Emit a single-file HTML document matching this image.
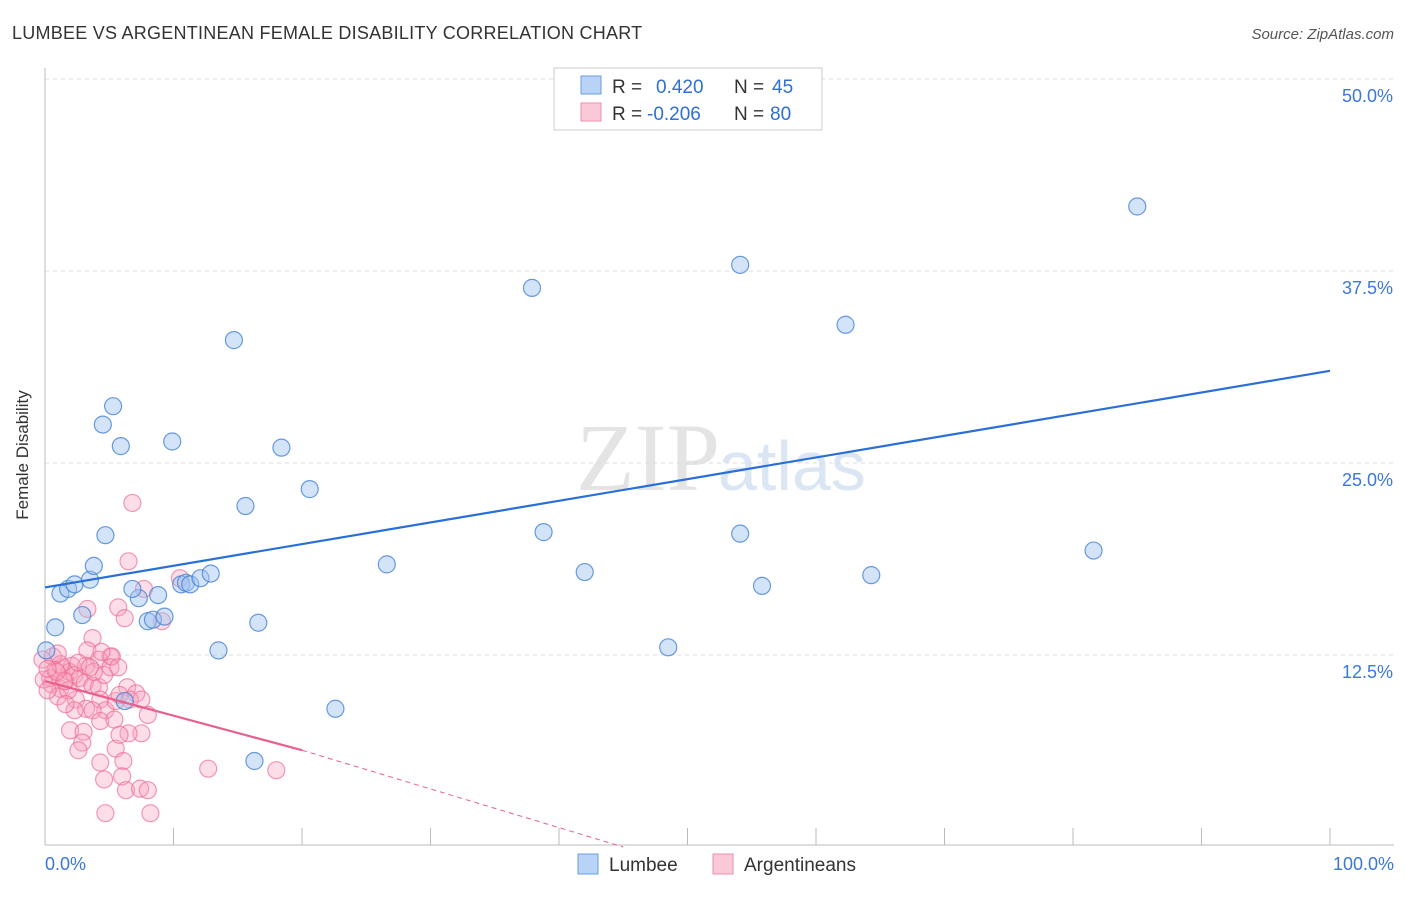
<!DOCTYPE html><html><head><meta charset="utf-8"><style>body{margin:0;background:#fff;font-family:"Liberation Sans",sans-serif}</style></head><body>
<svg id="c" width="1406" height="892" xmlns="http://www.w3.org/2000/svg">
<text x="12" y="39" font-size="18" fill="#333" letter-spacing="0.25">LUMBEE VS ARGENTINEAN FEMALE DISABILITY CORRELATION CHART</text>
<text x="1394" y="39" font-size="15" fill="#555" font-style="italic" text-anchor="end">Source: ZipAtlas.com</text>
<text x="720" y="490" font-size="96" fill="#e4e4e4" text-anchor="end" font-family="Liberation Serif">ZIP</text>
<text x="718" y="490" font-size="70" fill="#dbe6f5">atlas</text>
<g id="grid"></g><g id="pts"></g><g id="lines"></g>
<text x="28" y="455" font-size="17" fill="#333" transform="rotate(-90 28 455)" text-anchor="middle">Female Disability</text>
<text x="45" y="870" font-size="18" fill="#3a78d8">0.0%</text>
<text x="1394" y="870" font-size="18" fill="#3a78d8" text-anchor="end">100.0%</text>
<g>
<rect x="554" y="68" width="268" height="62" fill="#fff" stroke="#ccc"/>
<rect x="581" y="76" width="20" height="18" fill="#b8d3f5" stroke="#6a9ee0"/>
<rect x="581" y="103" width="20" height="18" fill="#fbc8d8" stroke="#ee8fb0"/>
<text y="93" font-size="19" fill="#333"><tspan x="612">R =</tspan><tspan x="656" fill="#2d6fd6">0.420</tspan><tspan x="734">N =</tspan><tspan x="772" fill="#2d6fd6">45</tspan></text>
<text y="120" font-size="19" fill="#333"><tspan x="612">R =</tspan><tspan x="647" fill="#2d6fd6">-0.206</tspan><tspan x="734">N =</tspan><tspan x="770" fill="#2d6fd6">80</tspan></text>
</g>
<g>
<rect x="578" y="854" width="20" height="20" fill="#b8d3f5" stroke="#6a9ee0"/>
<text x="609" y="871" font-size="19" fill="#333">Lumbee</text>
<rect x="713" y="854" width="20" height="20" fill="#fbc8d8" stroke="#ee8fb0"/>
<text x="744" y="871" font-size="19" fill="#333">Argentineans</text>
</g>
</svg>
<script>
const yTicks=[12.5,25,37.5,50];
const yTickLabels=["12.5%","25.0%","37.5%","50.0%"];
const lumbeeX=[0.8,1.2,1.8,2.3,2.9,3.5,3.8,4.7,4.5,5.3,5.9,9.9,14.7,18.4,15.6,20.6,7.3,6.8,8.0,8.4,8.8,9.3,10.6,10.97,11.3,12.1,12.9,16.6,13.5,22.6,16.3,6.2,0.1,26.6,37.9,38.8,42.0,48.5,54.1,54.1,55.8,62.3,64.3,81.6,85.0];
const lumbeeY=[14.3,16.5,16.8,17.1,15.1,17.4,18.3,20.3,27.5,28.7,26.1,26.4,33.0,26.0,22.2,23.3,16.2,16.8,14.7,14.8,16.4,15.0,17.1,17.2,17.1,17.5,17.8,14.6,12.8,9.0,5.6,9.5,12.8,18.4,36.4,20.5,17.9,13.0,37.9,20.4,17.0,34.0,17.7,19.3,41.7];
const argX=[6.8,6.5,3.3,5.7,6.2,3.7,3.3,5.1,4.2,5.2,2.1,1.3,0.8,0.4,0.5,1.2,1.6,1.9,2.3,2.7,3.1,3.7,4.2,4.6,5.1,5.7,1.0,2.4,3.2,4.3,4.7,5.5,6.4,7.1,2.3,3.7,4.3,1.95,3.0,2.9,2.6,5.5,6.1,6.0,4.3,6.3,7.4,8.0,4.7,8.2,7.5,6.5,8.0,4.6,12.7,18.0,7.7,10.5,9.1,-0.2,-0.1,0.2,0.6,1.2,1.8,3.2,3.8,5.8,6.6,1.5,2.6,3.5,4.4,0.9,0.2,1.6,5.4,7.5,1.0,5.8];
const argY=[22.4,18.6,15.5,15.6,14.9,13.6,12.8,12.4,12.2,12.4,11.8,11.7,11.5,11.0,10.6,10.3,10.8,11.4,11.2,11.0,10.7,10.5,10.4,11.2,11.7,11.7,9.8,9.6,9.0,9.6,8.9,9.5,10.4,10.0,8.9,8.9,8.2,7.6,7.5,6.8,6.3,6.4,5.6,4.6,5.5,3.7,3.8,3.7,2.2,2.2,7.4,7.4,8.6,4.4,5.1,5.0,16.8,17.5,14.7,12.2,10.9,10.2,12.4,11.9,10.2,11.8,11.4,9.9,9.6,10.8,12.0,11.7,12.7,11.4,11.6,9.3,8.3,9.6,12.6,7.3];
const lumbeeTrend=[16.9,31.0];
const argTrend=[10.8,6.3,0];
const argTrendX=[0,20,45];
const X=v=>45+v*12.85, Y=v=>847-v*15.36;
const NS="http://www.w3.org/2000/svg";
function mk(t,a,p){const e=document.createElementNS(NS,t);for(const k in a)e.setAttribute(k,a[k]);p.appendChild(e);return e;}
const g=document.getElementById('grid');
const ax=mk('line',{x1:45,y1:68,x2:45,y2:845,stroke:'#bbb'},g);


const xa=mk('line',{x1:45,y1:845,x2:1394,y2:845,stroke:'#bbb'},g);


for(let i=1;i<=10;i++){const t=mk('line',{x1:X(i*10),x2:X(i*10),y1:828,y2:845,stroke:'#bbb'},g);

}
yTicks.forEach((v,i)=>{const l=mk('line',{x1:45,x2:1394,y1:Y(v),y2:Y(v),stroke:'#ddd','stroke-dasharray':'4,4'},g);


const t=mk('text',{x:1393,y:Y(v)+23,'font-size':18,fill:'#3a78d8','text-anchor':'end'},g);t.textContent=yTickLabels[i];

});
const p=document.getElementById('pts');
argX.forEach((v,i)=>{const c=mk('circle',{cx:X(v),cy:Y(argY[i]),r:8.5,fill:'rgba(248,160,190,0.35)',stroke:'rgba(236,110,150,0.7)','stroke-width':1.2},p);

});
lumbeeX.forEach((v,i)=>{const c=mk('circle',{cx:X(v),cy:Y(lumbeeY[i]),r:8.5,fill:'rgba(160,196,240,0.45)',stroke:'rgba(70,130,215,0.8)','stroke-width':1.2},p);

});
const L=document.getElementById('lines');
const bl=mk('line',{x1:X(0),y1:Y(lumbeeTrend[0]),x2:X(100),y2:Y(lumbeeTrend[1]),stroke:'#2a6fd6','stroke-width':2.2},L);


const pl=mk('line',{x1:X(argTrendX[0]),y1:Y(argTrend[0]),x2:X(argTrendX[1]),y2:Y(argTrend[1]),stroke:'#e8608e','stroke-width':2.2},L);


const pd=mk('line',{x1:X(argTrendX[1]),y1:Y(argTrend[1]),x2:X(argTrendX[2]),y2:Y(argTrend[2]),stroke:'#e8608e','stroke-width':1,'stroke-dasharray':'5,4'},L);


</script></body></html>
